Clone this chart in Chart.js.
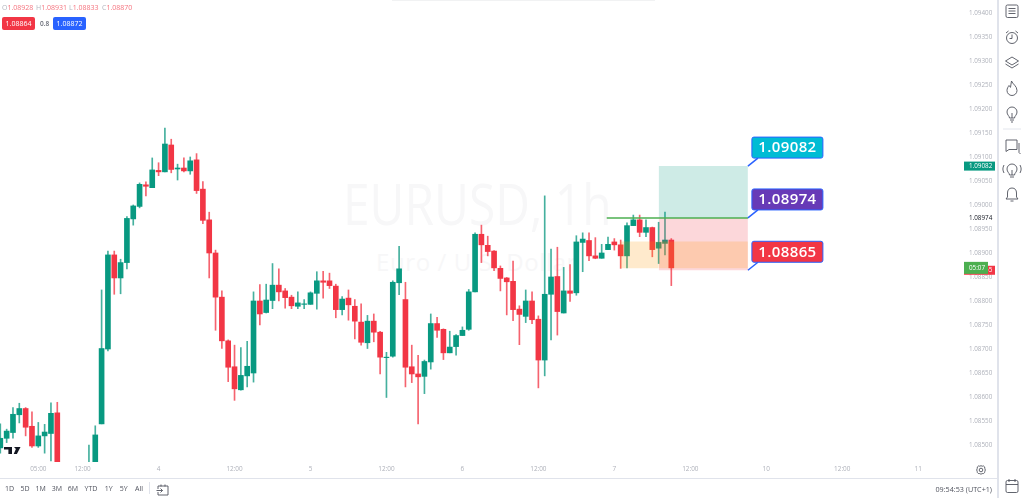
<!DOCTYPE html>
<html>
<head>
<meta charset="utf-8">
<title>EURUSD, 1h</title>
<script src="https://cdn.jsdelivr.net/npm/chart.js@4"></script>
<style>
  html, body { margin: 0; padding: 0; background: #fff; overflow: hidden; }
  body { width: 1024px; height: 498px; position: relative; font-family: "Open Sans", sans-serif; }
  canvas { position: absolute; left: 0; top: 0; z-index: 2; }
  .abs { position: absolute; white-space: nowrap; }
  .mark { color: #f7f7f8; left: 343px; top: 165px; font-size: 57px; transform: scaleX(.84); transform-origin: left top; line-height: 76px; z-index: 1; }
  .sub { color: #f7f7f8; left: 376px; top: 247px; font-size: 24px; letter-spacing: .6px; line-height: 30px; z-index: 1; }
  .topbar { left: 392px; top: 0; width: 263px; height: 1px; background: #f1f2f3; z-index: 3; }
  .ohlc { top: 3px; font-size: 7px; line-height: 10px; color: #f5737e; z-index: 3; }
  .ohlc b { font-weight: 400; color: #b2b5be; }
  .pill { top: 17px; width: 33px; height: 13px; border-radius: 2px; color: #fff; font-size: 7px; line-height: 13px; text-align: center; z-index: 3; }
  .range { top: 484px; font-size: 7px; line-height: 10px; color: #50535e; transform: translateX(-50%); z-index: 3; }
  .hline { left: 0; top: 478px; width: 998px; height: 1px; background: #e0e3eb; z-index: 3; }
  .vline { left: 997px; top: 0; width: 2px; height: 498px; background: #e0e3eb; z-index: 3; }
  .sep { left: 149px; top: 482px; width: 1px; height: 12px; background: #e0e3eb; z-index: 3; }
  svg { position: absolute; z-index: 3; }
</style>
</head>
<body>
<div class="abs mark">EURUSD, 1h</div>
<div class="abs sub">Euro / U.S. Dollar</div>
<canvas id="chart" width="1024" height="498"></canvas>

<div class="abs topbar"></div>
<div class="abs ohlc" style="left:2px"><b>O</b>1.08928</div>
<div class="abs ohlc" style="left:36px"><b>H</b>1.08931</div>
<div class="abs ohlc" style="left:69px"><b>L</b>1.08833</div>
<div class="abs ohlc" style="left:102px"><b>C</b>1.08870</div>
<div class="abs pill" style="left:2px;background:#f23645">1.08864</div>
<div class="abs" style="left:40px;top:18px;font-size:6.5px;line-height:11px;font-weight:600;color:#6a6d78;z-index:3">0.8</div>
<div class="abs pill" style="left:53px;background:#2962ff">1.08872</div>

<div class="abs hline"></div>
<div class="abs vline"></div>
<div class="abs sep"></div>
<div class="abs range" style="left:9.5px">1D</div>
<div class="abs range" style="left:25px">5D</div>
<div class="abs range" style="left:40.7px">1M</div>
<div class="abs range" style="left:57px">3M</div>
<div class="abs range" style="left:73px">6M</div>
<div class="abs range" style="left:91px">YTD</div>
<div class="abs range" style="left:108.7px">1Y</div>
<div class="abs range" style="left:123.7px">5Y</div>
<div class="abs range" style="left:139px">All</div>
<div class="abs" style="right:32px;top:484px;font-size:7.2px;line-height:10px;color:#50535e;z-index:3">09:54:53 (UTC+1)</div>

<!-- logo -->
<svg style="left:0;top:444px" width="24" height="12"><path d="M4 3h8v7H8.4V5.6H4zM14 3h6.5l-3.6 7h-3.2l2.2-5z" fill="#131722"/></svg>
<!-- goto date icon -->
<svg style="left:155px;top:482px" width="15" height="14" fill="none" stroke="#50535e" stroke-width=".9"><path d="M3 4h10v9H3V10M3 7V4M6 2.5v2M10 2.5v2M1.5 8.5h6l-2-2M7.5 8.5l-2 2"/></svg>
<!-- gear -->
<svg style="left:975px;top:464px" width="12" height="12" fill="none" stroke="#50535e" stroke-width=".9"><circle cx="6" cy="6" r="1.8"/><path d="M6 1.7l1.2.5 1.5-.2.9.9.2 1.5.5 1.6-.5 1.5-.2 1.1-1 .9-1.4.1-1.2.6-1.3-.6-1.4-.1-.9-.9-.2-1.2L1.7 6l.5-1.5.2-1.6.9-.9 1.5.2z"/></svg>
<!-- side toolbar -->
<svg style="left:1000px;top:0" width="24" height="498" fill="none" stroke="#50535e" stroke-width=".9">
  <rect x="6" y="5" width="12" height="12.5" rx="1.5"/><path d="M8.5 8.5h7M8.5 11h7M8.5 13.5h7"/>
  <circle cx="12" cy="38" r="5.5"/><path d="M12 34.5V38.5H9.5M6 33l2.5-2M18 33l-2.5-2"/>
  <path d="M12 57l6.5 4-6.5 4-6.5-4zM5.5 64l6.5 4 6.5-4"/>
  <path d="M11.5 81c1 3 5.5 5 5.500 9.500a5 5 0 0 1-10 0c0-2 1-3.500 2-5 .5 1 1 1.500 1.500 1.800 .5-2 .5-4.300 1-6.300z"/>
  <path d="M9.500 118c0-2-2.500-3-2.500-6a5 5 0 0 1 10 0c0 3-2.500 4-2.500 6zM10 120h4M11 122h2M12 118v-5"/>
  <path d="M3 129h18" stroke="#e0e3eb"/>
  <path d="M6 140h11v9.500H9l-3 2zM19 143v9.500l1.500 1.500"/>
  <path d="M9.500 175c0-2-2.500-3-2.500-6a5 5 0 0 1 10 0c0 3-2.500 4-2.500 6zM10 177h4M12 175v-5M4 165c-1.500 3-1.500 5 0 8M20 165c1.500 3 1.500 5 0 8"/>
  <path d="M12 188c3 0 4.500 2 4.500 5v4l1.500 2H6l1.500-2v-4c0-3 1.500-5 4.500-5zM10.500 201h3"/>
  <rect x="6" y="480.500" width="12" height="12" rx="1.500"/><path d="M6 484.500h12M9 479v3M15 479v3"/>
</svg>

<script>
// hour of each candle, counted from 00:00 on the 3rd
const candleHours = [-1,0,1,2,3,4,5,6,7,8,13,14,15,16,17,18,19,20,21,22,23,24,25,26,27,28,29,30,31,32,33,34,35,36,37,38,39,40,41,42,43,44,45,46,47,48,49,50,51,52,53,54,55,56,57,58,59,60,61,62,63,64,65,66,67,68,69,70,71,72,73,74,75,76,77,78,79,80,81,82,83,84,85,86,87,88,89,90,91,92,93,94,95,96,97,98,99,100,101,102,103,104,105];

const opens = [1.08495,1.08515,1.08527,1.08564,1.08577,1.08540,1.08499,1.08520,1.08525,1.08568,
  1.08440,1.08450,1.08545,1.08701,1.08897,1.08849,1.08881,1.08972,1.08998,1.09043,
  1.09037,1.09073,1.09070,1.09126,1.09076,1.09078,1.09072,1.09095,1.09034,1.08970,
  1.08901,1.08809,1.08718,1.08664,1.08616,1.08645,1.08651,1.08801,1.08777,1.08802,
  1.08834,1.08822,1.08809,1.08790,1.08794,1.08794,1.08817,1.08843,1.08843,1.08832,
  1.08783,1.08807,1.08790,1.08757,1.08714,1.08759,1.08736,1.08683,1.08686,1.08839,
  1.08804,1.08664,1.08649,1.08644,1.08674,1.08754,1.08742,1.08693,1.08706,1.08729,
  1.08742,1.08820,1.08940,1.08917,1.08905,1.08869,1.08849,1.08842,1.08784,1.08769,
  1.08801,1.08763,1.08678,1.08815,1.08852,1.08776,1.08822,1.08818,1.08923,1.08927,
  1.08895,1.08890,1.08908,1.08924,1.08918,1.08895,1.08958,1.08970,1.08944,1.08954,
  1.08911,1.08921,1.08928];

const highs = [1.08545,1.08534,1.08579,1.08588,1.08579,1.08570,1.08548,1.08544,1.08589,1.08590,
  1.08501,1.08541,1.08824,1.08905,1.08905,1.08888,1.08977,1.09001,1.09047,1.09049,
  1.09099,1.09089,1.09161,1.09138,1.09086,1.09099,1.09101,1.09108,1.09050,1.08986,
  1.08907,1.08822,1.08720,1.08709,1.08704,1.08717,1.08820,1.08835,1.08836,1.08879,
  1.08868,1.08827,1.08813,1.08820,1.08804,1.08820,1.08862,1.08863,1.08859,1.08836,
  1.08810,1.08824,1.08804,1.08795,1.08771,1.08774,1.08738,1.08694,1.08843,1.08915,
  1.08840,1.08709,1.08688,1.08678,1.08774,1.08767,1.08743,1.08738,1.08731,1.08747,
  1.08825,1.08943,1.08959,1.08936,1.08906,1.08874,1.08850,1.08884,1.08791,1.08824,
  1.08820,1.08770,1.09020,1.08909,1.08913,1.08871,1.08877,1.08937,1.08943,1.08943,
  1.08933,1.08919,1.08934,1.08931,1.08928,1.08964,1.08980,1.08980,1.08970,1.08955,
  1.08965,1.08986,1.08931];

const lows = [1.08484,1.08506,1.08515,1.08547,1.08520,1.08496,1.08496,1.08484,1.08468,1.08440,
  1.08430,1.08440,1.08545,1.08697,1.08815,1.08816,1.08868,1.08959,1.08995,1.09020,
  1.09037,1.09062,1.09070,1.09068,1.09053,1.09070,1.09065,1.09025,1.08962,1.08849,
  1.08740,1.08702,1.08633,1.08594,1.08615,1.08622,1.08632,1.08751,1.08776,1.08785,
  1.08801,1.08786,1.08785,1.08785,1.08785,1.08794,1.08784,1.08807,1.08827,1.08766,
  1.08772,1.08761,1.08722,1.08709,1.08702,1.08716,1.08649,1.08600,1.08684,1.08814,
  1.08622,1.08631,1.08545,1.08608,1.08659,1.08725,1.08679,1.08693,1.08688,1.08729,
  1.08740,1.08820,1.08881,1.08895,1.08864,1.08822,1.08772,1.08760,1.08710,1.08756,
  1.08754,1.08620,1.08645,1.08720,1.08730,1.08776,1.08800,1.08813,1.08862,1.08885,
  1.08889,1.08890,1.08908,1.08907,1.08869,1.08870,1.08958,1.08935,1.08935,1.08893,
  1.08879,1.08897,1.08833];

const closes = [1.08515,1.08530,1.08565,1.08577,1.08538,1.08499,1.08520,1.08528,1.08567,1.08450,
  1.08455,1.08522,1.08702,1.08897,1.08849,1.08881,1.08973,1.08999,1.09044,1.09040,
  1.09074,1.09070,1.09128,1.09075,1.09078,1.09072,1.09093,1.09031,1.08969,1.08901,
  1.08809,1.08718,1.08663,1.08618,1.08646,1.08665,1.08801,1.08774,1.08803,1.08834,
  1.08820,1.08808,1.08791,1.08797,1.08795,1.08818,1.08843,1.08840,1.08833,1.08783,
  1.08805,1.08793,1.08759,1.08715,1.08759,1.08736,1.08684,1.08684,1.08840,1.08868,
  1.08663,1.08649,1.08643,1.08675,1.08754,1.08740,1.08693,1.08705,1.08729,1.08740,
  1.08820,1.08940,1.08918,1.08904,1.08870,1.08848,1.08841,1.08783,1.08773,1.08801,
  1.08762,1.08678,1.08815,1.08851,1.08779,1.08822,1.08817,1.08924,1.08930,1.08895,
  1.08890,1.08901,1.08919,1.08918,1.08895,1.08958,1.08970,1.08944,1.08954,1.08908,
  1.08923,1.08928,1.08870];

const priceTicks = [1.094,1.0935,1.093,1.0925,1.092,1.0915,1.091,1.0905,1.09,1.0895,1.089,1.0885,1.088,1.0875,1.087,1.0865,1.086,1.0855,1.085];
const timeTicks = [5,12,24,36,48,60,72,84,96,108,120,132,144];
const timeLabels = ['05:00','12:00','4','12:00','5','12:00','6','12:00','7','12:00','10','12:00','11'];

// long position drawing
const takeProfit = 1.09082;
const entryPrice = 1.08974;
const stopPrice = 1.08865;
const orangeTop = 1.08925;
const orangeBottom = 1.08869;
const entryLineStart = 94.8;
const orangeStart = 96.9;
const toolStart = 103;
const toolEnd = 117.1;

const GREEN = '#089981';
const RED = '#f23645';
const candleColors = closes.map((c, i) => c >= opens[i] ? GREEN : RED);
const wickColors = closes.map((c, i) => c >= opens[i] ? '#45b09e' : '#f5636f');

function zone(from, to, top, bottom, color) {
  return {
    type: 'line',
    data: [{ x: from, y: top }, { x: to, y: top }],
    borderWidth: 0,
    pointRadius: 0,
    backgroundColor: color,
    fill: { value: bottom }
  };
}

// callouts and price tags, placed through the scales
const drawingLabels = {
  id: 'drawingLabels',
  afterDatasetsDraw(chart) {
    const ctx = chart.ctx;
    const xs = chart.scales.x, ys = chart.scales.y;
    const anchorX = xs.getPixelForValue(toolEnd);
    [[takeProfit, '#00bcd4'], [entryPrice, '#673ab7'], [stopPrice, RED]].forEach(([price, color]) => {
      const y = ys.getPixelForValue(price);
      ctx.save();
      ctx.strokeStyle = '#2962ff';
      ctx.lineWidth = 1.5;
      ctx.beginPath();
      ctx.moveTo(anchorX, y);
      ctx.lineTo(anchorX + 10, y - 8);
      ctx.stroke();
      ctx.beginPath();
      ctx.roundRect(anchorX + 4, y - 29, 71, 21, 2);
      ctx.fillStyle = color;
      ctx.fill();
      ctx.lineWidth = 1;
      ctx.stroke();
      ctx.fillStyle = '#fff';
      ctx.font = '600 15px "Open Sans"';
      ctx.letterSpacing = '0.4px';
      ctx.textAlign = 'center';
      ctx.textBaseline = 'middle';
      ctx.fillText(price.toFixed(5), anchorX + 39.5, y - 18);
      ctx.restore();
    });
  },
  afterDraw(chart) {
    const ctx = chart.ctx;
    const ys = chart.scales.y;
    function tag(price, color, text, width, height, textColor) {
      const y = ys.getPixelForValue(price);
      if (color) {
        ctx.fillStyle = color;
        ctx.fillRect(964, y - height / 2, width, height);
      }
      ctx.fillStyle = textColor;
      ctx.font = '6.3px "Open Sans"';
      ctx.textAlign = 'left';
      ctx.textBaseline = 'middle';
      ctx.fillText(text, 969, y);
    }
    ctx.save();
    tag(entryPrice, '#fff', entryPrice.toFixed(5), 31, 8, '#131722');
    tag(takeProfit, GREEN, takeProfit.toFixed(5), 31, 9, '#fff');
    tag(stopPrice, RED, stopPrice.toFixed(5), 31, 9, '#fff');
    tag(closes[closes.length - 1], '#4caf50', '05:07', 24, 12, '#fff');
    ctx.restore();
  }
};

new Chart(document.getElementById('chart'), {
  type: 'bar',
  data: {
    datasets: [
      {
        type: 'line',
        data: [{ x: entryLineStart, y: entryPrice }, { x: toolEnd, y: entryPrice }],
        borderColor: '#4caf50',
        borderWidth: 1.5,
        pointRadius: 0
      },
      zone(toolStart, toolEnd, orangeTop, orangeBottom, 'rgba(255,152,0,.2)'),
      zone(orangeStart, toolStart, orangeTop, orangeBottom, 'rgba(255,152,0,.2)'),
      zone(toolStart, toolEnd, takeProfit, entryPrice, 'rgba(8,153,129,.2)'),
      zone(toolStart, toolEnd, entryPrice, stopPrice, 'rgba(242,54,69,.2)'),
      {
        data: candleHours.map((h, i) => ({ x: h, y: [opens[i], closes[i]] })),
        backgroundColor: candleColors,
        barThickness: 5,
        grouped: false
      },
      {
        data: candleHours.map((h, i) => ({ x: h, y: [lows[i], highs[i]] })),
        backgroundColor: wickColors,
        barThickness: 1,
        grouped: false
      }
    ]
  },
  options: {
    responsive: false,
    animation: false,
    events: [],
    layout: { padding: { left: 0, top: 0, right: 26, bottom: 20 } },
    plugins: { legend: { display: false }, tooltip: { enabled: false } },
    scales: {
      x: {
        type: 'linear',
        offset: false,
        min: -1.05,
        max: 151.08,
        grid: { display: false, drawTicks: false },
        border: { display: false },
        afterBuildTicks(scale) { scale.ticks = timeTicks.map(v => ({ value: v })); },
        afterFit(scale) { scale.height = 16; scale.paddingLeft = 0; scale.paddingRight = 0; },
        ticks: {
          autoSkip: false,
          maxRotation: 0,
          padding: 3,
          color: '#aeb1ba',
          font: { family: 'Open Sans', size: 6.4 },
          callback(value) { return timeLabels[timeTicks.indexOf(value)]; }
        }
      },
      y: {
        position: 'right',
        min: 1.084656,
        max: 1.09428,
        grid: { display: false, drawTicks: false },
        border: { display: false },
        afterBuildTicks(scale) { scale.ticks = priceTicks.map(v => ({ value: v })); },
        afterFit(scale) { scale.width = 35; scale.paddingTop = 0; scale.paddingBottom = 0; },
        ticks: {
          padding: 6,
          color: '#aeb1ba',
          font: { family: 'Open Sans', size: 6.3 },
          callback(value) { return value.toFixed(5); }
        }
      }
    }
  },
  plugins: [drawingLabels]
});
</script>
</body>
</html>
